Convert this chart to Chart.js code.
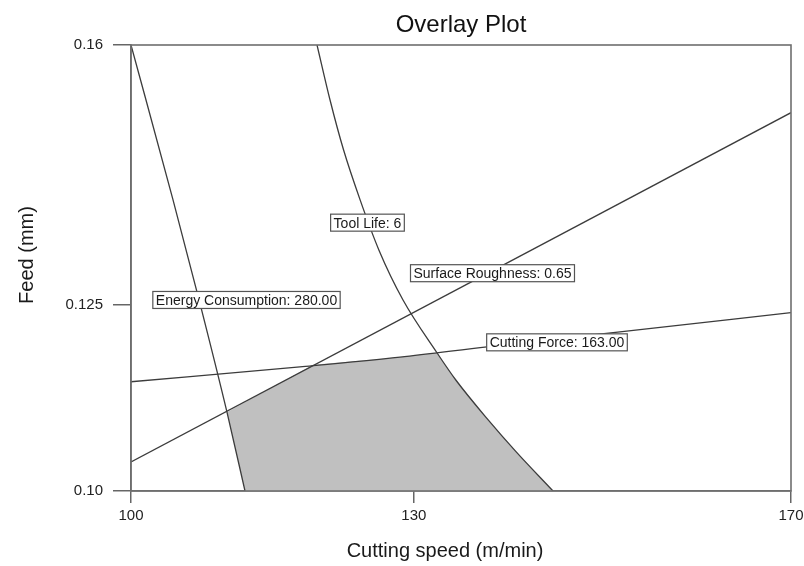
<!DOCTYPE html>
<html>
<head>
<meta charset="utf-8">
<script src="https://cdn.jsdelivr.net/npm/chart.js@4.4.1/dist/chart.umd.min.js"></script>
<style>
html,body{margin:0;padding:0;background:#ffffff;}
#wrap{width:804px;height:566px;position:relative;}
</style>
</head>
<body>
<div id="wrap"><canvas id="c" width="804" height="566"></canvas></div>
<script>
// ---- texts ----
const chartTitle = 'Overlay Plot';
const xAxisTitle = 'Cutting speed (m/min)';
const yAxisTitle = 'Feed (mm)';

// ---- ticks ----
const xTickValues = [100, 130, 170];
const xTickLabels = ['100', '130', '170'];
const yTickValues = [0.10, 0.125, 0.16];
const yTickLabels = ['0.10', '0.125', '0.16'];

// ---- contour: Energy Consumption = 280.00 ----
const energySpeed = [100, 104.45, 107.32, 110.18, 112.09];
const energyFeed  = [0.160, 0.1392, 0.1252, 0.1106, 0.100];

// ---- contour: Tool Life = 6 ----
const toolSpeed = [119.73, 121.11, 122.54, 124.29, 126.30, 128.85, 132.45, 134.47, 137.86, 140.83, 144.76];
const toolFeed  = [0.160, 0.1526, 0.1459, 0.1392, 0.1324, 0.1257, 0.1186, 0.1149, 0.1096, 0.1053, 0.100];

// ---- contour: Surface Roughness = 0.65 ----
const roughSpeed = [100, 135, 170];
const roughFeed  = [0.1039, 0.1274, 0.1509];

// ---- contour: Cutting Force = 163.00 ----
const forceSpeed = [100, 117.92, 128.53, 137.76, 151.86, 170];
const forceFeed  = [0.1147, 0.1167, 0.1180, 0.1194, 0.1214, 0.1240];

// ---- feasible (shaded) region vertices ----
const regionSpeed = [112.09, 110.18, 119.30, 128.53, 132.45, 134.47, 137.86, 140.83, 144.76, 112.09];
const regionFeed  = [0.100, 0.1106, 0.1170, 0.1180, 0.1186, 0.1149, 0.1096, 0.1053, 0.100, 0.100];

// ---- contour labels ----
const labelTexts = ['Tool Life: 6', 'Energy Consumption: 280.00', 'Surface Roughness: 0.65', 'Cutting Force: 163.00'];
const labelSpeed = [125.08, 112.25, 138.34, 145.18];
const labelFeed  = [0.1361, 0.1257, 0.1293, 0.1200];

function pts(xs, ys) { return xs.map((x, i) => ({ x: x, y: ys[i] })); }

const LINE = '#3c3c3c';
const FONT = "'Liberation Sans', Arial, sans-serif";

const overlayPlugin = {
  id: 'overlay',
  afterDatasetsDraw(chart) {
    const ctx = chart.ctx;
    const a = chart.chartArea;
    const xs = chart.scales.x, ys = chart.scales.y;
    ctx.save();
    // plot frame
    ctx.strokeStyle = '#6e6e6e';
    ctx.lineWidth = 1.6;
    ctx.strokeRect(a.left, a.top, a.right - a.left, a.bottom - a.top);
    // contour labels
    ctx.font = '14px ' + FONT;
    ctx.textAlign = 'center';
    ctx.textBaseline = 'middle';
    labelTexts.forEach((t, i) => {
      const cx = xs.getPixelForValue(labelSpeed[i]);
      const cy = ys.getPixelForValue(labelFeed[i]);
      const w = ctx.measureText(t).width + 6;
      const h = 17;
      ctx.fillStyle = '#ffffff';
      ctx.fillRect(cx - w / 2, cy - h / 2, w, h);
      ctx.strokeStyle = '#555555';
      ctx.lineWidth = 1.2;
      ctx.strokeRect(cx - w / 2, cy - h / 2, w, h);
      ctx.fillStyle = '#1a1a1a';
      ctx.fillText(t, cx, cy + 1);
    });
    ctx.restore();
  },
  afterDraw(chart) {
    const ctx = chart.ctx;
    const a = chart.chartArea;
    ctx.save();
    ctx.fillStyle = '#1a1a1a';
    ctx.font = '20px ' + FONT;
    ctx.textAlign = 'center';
    ctx.textBaseline = 'alphabetic';
    ctx.fillText(xAxisTitle, (a.left + a.right) / 2 - 16, 557);
    ctx.translate(33, (a.top + a.bottom) / 2 - 13);
    ctx.rotate(-Math.PI / 2);
    ctx.fillText(yAxisTitle, 0, 0);
    ctx.restore();
  }
};

const ds = (label, data, extra) => Object.assign({
  label: label,
  data: data,
  borderColor: LINE,
  borderWidth: 1.3,
  pointRadius: 0,
  pointHoverRadius: 0,
  fill: false,
  tension: 0,
  order: 1
}, extra || {});

new Chart(document.getElementById('c'), {
  type: 'line',
  data: {
    datasets: [
      ds('Energy Consumption', pts(energySpeed, energyFeed), { cubicInterpolationMode: 'monotone' }),
      ds('Tool Life', pts(toolSpeed, toolFeed), { cubicInterpolationMode: 'monotone' }),
      ds('Surface Roughness', pts(roughSpeed, roughFeed)),
      ds('Cutting Force', pts(forceSpeed, forceFeed), { cubicInterpolationMode: 'monotone' }),
      ds('Feasible region', pts(regionSpeed, regionFeed), {
        borderWidth: 0,
        borderColor: 'rgba(0,0,0,0)',
        backgroundColor: '#c0c0c0',
        fill: 'shape',
        order: 10
      })
    ]
  },
  options: {
    responsive: false,
    animation: false,
    devicePixelRatio: 1,
    layout: { padding: { top: 0, right: 13, bottom: 0, left: 0 } },
    plugins: {
      legend: { display: false },
      tooltip: { enabled: false },
      title: {
        display: true,
        text: chartTitle,
        fullSize: false,
        color: '#111111',
        font: { family: FONT, size: 24, weight: 'normal' },
        padding: { top: 10.6, bottom: 5.6 }
      }
    },
    scales: {
      x: {
        type: 'linear',
        min: 100,
        max: 170,
        afterBuildTicks: (s) => { s.ticks = xTickValues.map(v => ({ value: v })); },
        afterFit: (s) => { s.height = 75; s.paddingLeft = 0; s.paddingRight = 0; },
        ticks: {
          autoSkip: false,
          maxRotation: 0,
          padding: 4,
          color: '#222222',
          font: { family: FONT, size: 15 },
          callback: (v, i) => xTickLabels[i]
        },
        grid: { drawOnChartArea: false, drawTicks: true, tickLength: 12, color: '#666666', lineWidth: 1.5 },
        border: { display: true, color: '#6e6e6e', width: 1.6 }
      },
      y: {
        type: 'linear',
        min: 0.10,
        max: 0.16,
        afterBuildTicks: (s) => { s.ticks = yTickValues.map(v => ({ value: v })); },
        afterFit: (s) => { s.width = 131; s.paddingTop = 0; s.paddingBottom = 0; },
        ticks: {
          autoSkip: false,
          padding: 10,
          color: '#222222',
          font: { family: FONT, size: 15 },
          callback: (v, i) => yTickLabels[i]
        },
        grid: { drawOnChartArea: false, drawTicks: true, tickLength: 18, color: '#666666', lineWidth: 1.5 },
        border: { display: true, color: '#6e6e6e', width: 1.6 }
      }
    }
  },
  plugins: [overlayPlugin]
});
</script>
</body>
</html>
